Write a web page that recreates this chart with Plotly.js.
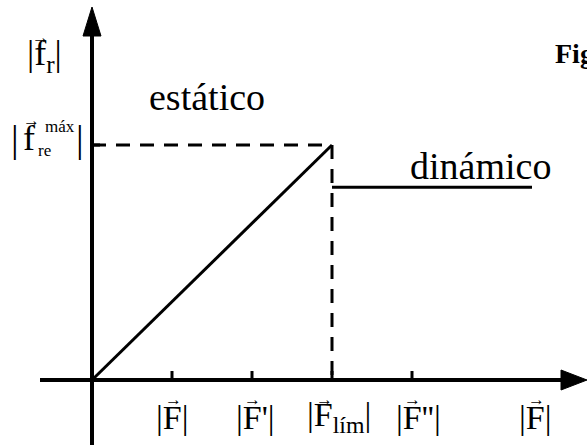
<!DOCTYPE html>
<html><head><meta charset="utf-8">
<script src="https://cdn.plot.ly/plotly-3.0.1.min.js"></script>
<style>html,body{margin:0;padding:0;background:#fff}#c{width:587px;height:445px}</style>
</head><body><div id="c"></div>
<script>
// ---- data ----
const tickPos = [1, 2, 3, 4];
const tickLabels = ["|F|", "|F'|", "|F<sub>lím</sub>|", "|F''|"];
const endLabel = "|F|";
const Flim = 3;          // applied force at the limit
const Fend = 5.5;        // end of the drawn dynamic region
const fMax = 1.0;        // max static friction
const fDyn = 0.82;       // kinetic friction
const staticX = [0, Flim], staticY = [0, fMax];
const dynX = [Flim, Fend], dynY = [fDyn, fDyn];

// ---- pixel mapping (0 margins) ----
const W = 587, H = 445, ox = 92, oy = 380, ux = 80, uy = 235;
const X = px => (px - ox) / ux;
const Y = py => (oy - py) / uy;
const FONT = "Liberation Serif, Times New Roman, serif";

const traces = [
  {x: staticX, y: staticY, mode: "lines", line: {color: "#000", width: 3}, hoverinfo: "skip"},
  {x: dynX, y: dynY, mode: "lines", line: {color: "#000", width: 3}, hoverinfo: "skip"},
  {x: [0, Flim], y: [fMax, fMax], mode: "lines", line: {color: "#000", width: 3, dash: "14px,10px"}, hoverinfo: "skip"},
  {x: [Flim, Flim], y: [fMax, 0], mode: "lines", line: {color: "#000", width: 3, dash: "14px,10px"}, hoverinfo: "skip"}
];

const shapes = [
  {type: "line", x0: X(40), x1: X(566), y0: 0, y1: 0, line: {color: "#000", width: 4}},
  {type: "line", x0: 0, x1: 0, y0: Y(H), y1: Y(30), line: {color: "#000", width: 4}},
  {type: "path", path: `M${X(587)},0 L${X(561)},${10/uy} L${X(561)},${-10/uy} Z`, fillcolor: "#000", line: {color: "#000", width: 1}},
  {type: "path", path: `M0,${Y(7)} L${-9/ux},${Y(36)} L${9/ux},${Y(36)} Z`, fillcolor: "#000", line: {color: "#000", width: 1}},
  {type: "line", x0: 0, x1: 8/ux, y0: fMax, y1: fMax, line: {color: "#000", width: 3}}
];
tickPos.forEach(t => shapes.push({type: "line", x0: t, x1: t, y0: 0, y1: 9/uy, line: {color: "#000", width: 3}}));

const ann = [];
const txt = (px, py, text, size, extra) => Object.assign({x: X(px), y: Y(py), text, showarrow: false,
  xanchor: "center", yanchor: "middle", font: {family: FONT, size, color: "#000"}}, extra || {});
const vecArrow = (px, py, size) => txt(px, py, "\u2192", size || 17);

// x tick labels (centres in px) and where the F sits for its vector arrow
const labelCx = [172, 255, 339, 418];
const arrowCx = [173, 252, 324, 412];
tickPos.forEach((t, i) => {
  ann.push(txt(labelCx[i], 417, tickLabels[i], 34));
  ann.push(vecArrow(arrowCx[i], 399));
});
ann.push(txt(535, 417, endLabel, 34));
ann.push(vecArrow(536, 399));

// y labels
ann.push(txt(44, 55, "|f<sub>r</sub>|", 36));
ann.push(vecArrow(40, 37));
ann.push(txt(15, 139, "|", 38));
ann.push(txt(29, 138, "f", 36));
ann.push(vecArrow(31, 120));
ann.push(txt(60, 126, "máx", 17));
ann.push(txt(44, 150, "re", 17));
ann.push(txt(80, 139, "|", 38));

ann.push(txt(207, 97, "estático", 38));
ann.push(txt(480, 166, "dinámico", 38));
ann.push(txt(553, 53, "<b>Fig</b>", 28, {xanchor: "left"}));

const layout = {
  width: W, height: H, margin: {l: 0, r: 0, t: 0, b: 0},
  paper_bgcolor: "#fff", plot_bgcolor: "#fff", showlegend: false,
  xaxis: {range: [X(0), X(W)], visible: false, fixedrange: true},
  yaxis: {range: [Y(H), Y(0)], visible: false, fixedrange: true},
  shapes, annotations: ann
};
Plotly.newPlot("c", traces, layout, {staticPlot: true});
</script></body></html>
